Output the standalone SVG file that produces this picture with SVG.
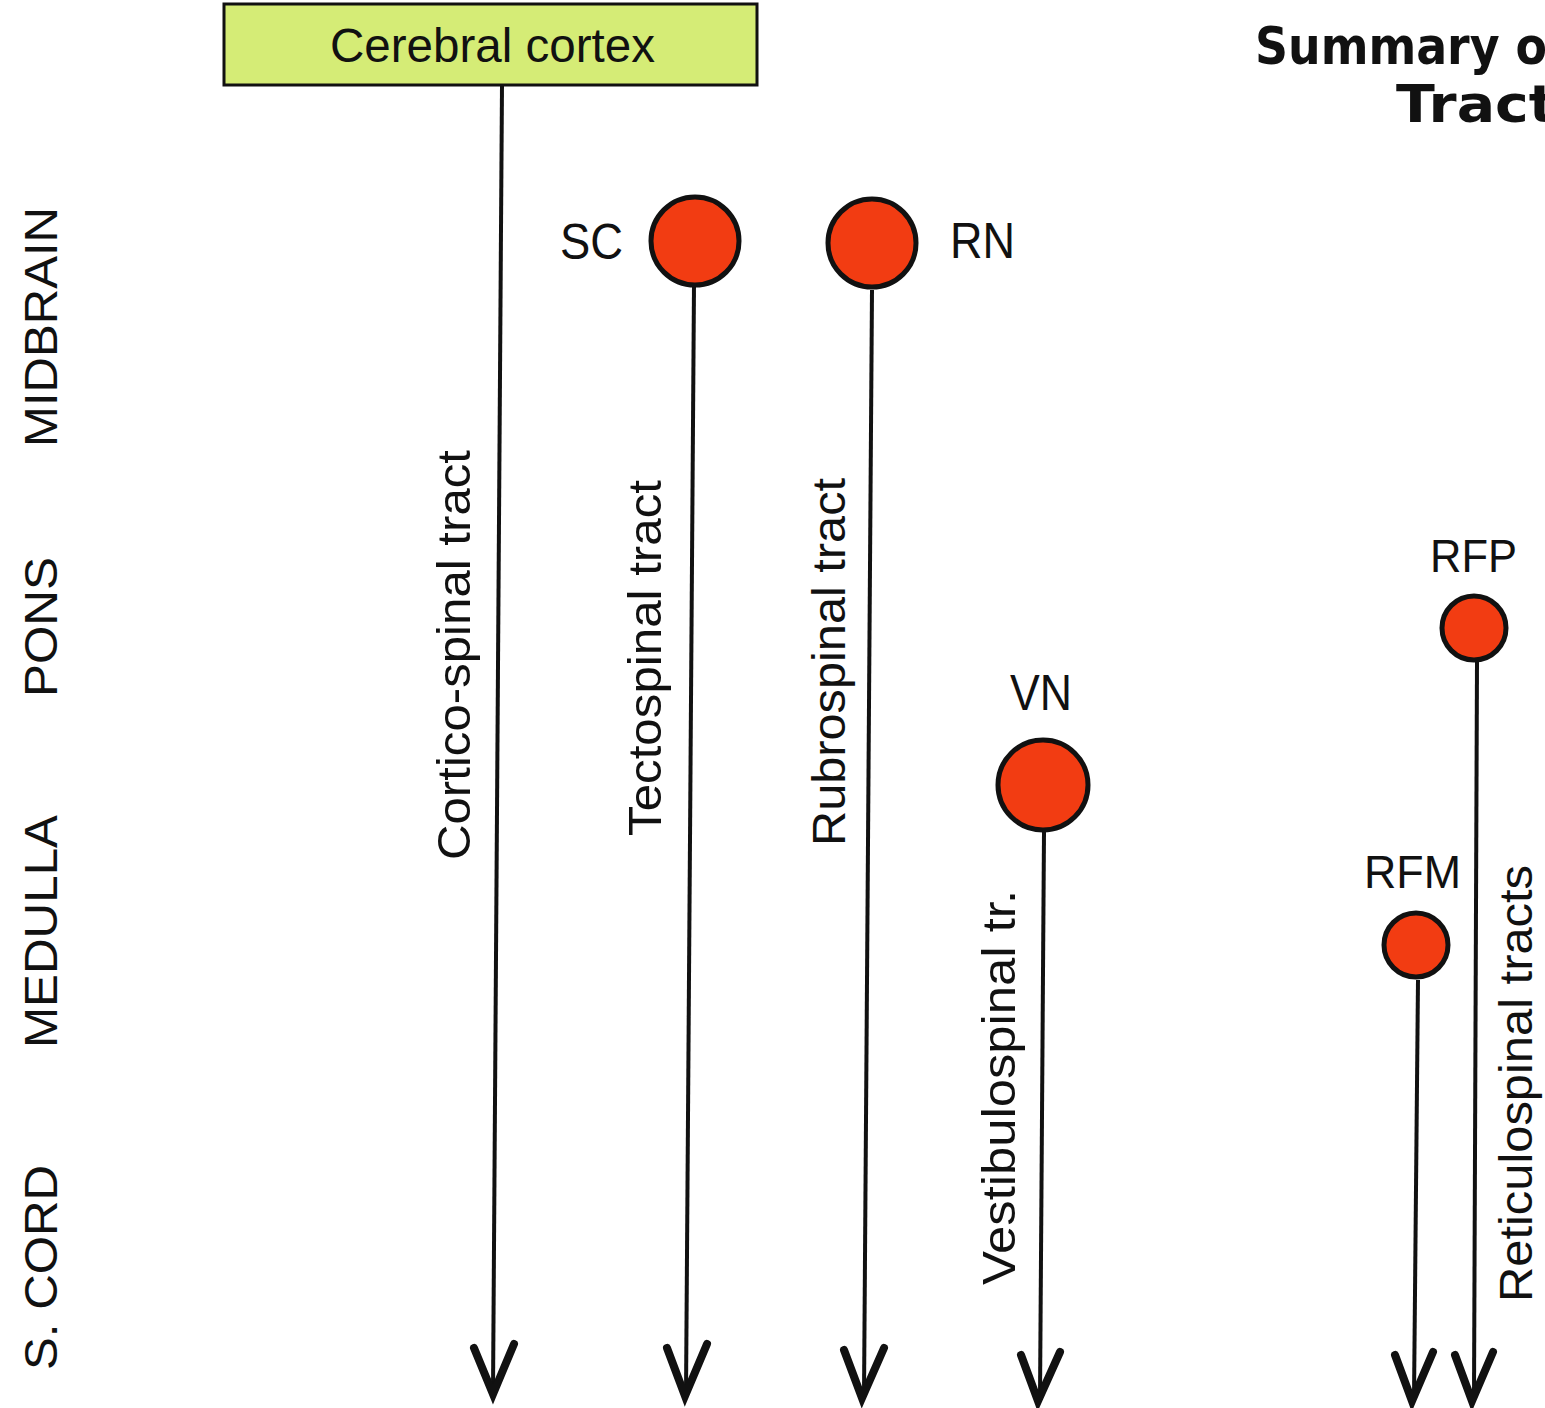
<svg xmlns="http://www.w3.org/2000/svg" width="1545" height="1408" viewBox="0 0 1545 1408">
<style>
.lbl{font-family:"Liberation Sans",Arial,sans-serif;fill:#111}
.nuc{fill:#f23c12;stroke:#111;stroke-width:5}
.tract{stroke:#111;stroke-width:4;fill:none}
.head{stroke:#111;stroke-width:8;fill:none;stroke-linecap:round;stroke-linejoin:miter}
.title{font-family:"Comic Sans MS","DejaVu Sans",sans-serif;font-weight:bold;fill:#111}
</style>
<rect x="0" y="0" width="1545" height="1408" fill="#ffffff"/>
<g id="title">
<text class="title" x="1255" y="64" font-size="52" textLength="312" lengthAdjust="spacingAndGlyphs">Summary of</text>
<text class="title" x="1396" y="122" font-size="52" textLength="160" lengthAdjust="spacingAndGlyphs">Tract</text>
</g>
<g id="levels">
<text class="lbl" font-size="46" transform="translate(57,447) rotate(-90)" textLength="240" lengthAdjust="spacingAndGlyphs">MIDBRAIN</text>
<text class="lbl" font-size="46" transform="translate(57,697) rotate(-90)" textLength="140" lengthAdjust="spacingAndGlyphs">PONS</text>
<text class="lbl" font-size="46" transform="translate(57,1048) rotate(-90)" textLength="233" lengthAdjust="spacingAndGlyphs">MEDULLA</text>
<text class="lbl" font-size="46" transform="translate(57,1370) rotate(-90)" textLength="205" lengthAdjust="spacingAndGlyphs">S. CORD</text>
</g>
<g id="cortex">
<rect x="224" y="4" width="533" height="81" fill="#d5ec76" stroke="#111" stroke-width="3"/>
<text class="lbl" x="330" y="62" font-size="48" textLength="325" lengthAdjust="spacingAndGlyphs">Cerebral cortex</text>
</g>
<g id="connectors">
<path class="tract" d="M502 85 L493 1392"/>
<path class="head" d="M474 1348 L493 1394 L514 1344"/>
<path class="tract" d="M694 285 L686 1394"/>
<path class="head" d="M667 1348 L685 1396 L707 1344"/>
<path class="tract" d="M872 290 L864 1396"/>
<path class="head" d="M844 1350 L862 1398 L884 1348"/>
<path class="tract" d="M1044 832 L1040 1398"/>
<path class="head" d="M1021 1355 L1038 1401 L1060 1352"/>
<path class="tract" d="M1418 980 L1414 1398"/>
<path class="head" d="M1395 1355 L1412 1401 L1433 1352"/>
<path class="tract" d="M1477 662 L1474 1398"/>
<path class="head" d="M1455 1355 L1472 1401 L1493 1352"/>
</g>
<g id="corticospinal-label">
<text class="lbl" font-size="47" transform="translate(470,860) rotate(-90)" textLength="410" lengthAdjust="spacingAndGlyphs">Cortico-spinal tract</text>
</g>
<g id="SC">
<circle class="nuc" cx="695" cy="241" r="44"/>
<text class="lbl" x="560" y="259" font-size="50" textLength="63" lengthAdjust="spacingAndGlyphs">SC</text>
<text class="lbl" font-size="47" transform="translate(661,836) rotate(-90)" textLength="356" lengthAdjust="spacingAndGlyphs">Tectospinal tract</text>
</g>
<g id="RN">
<circle class="nuc" cx="872" cy="243" r="44"/>
<text class="lbl" x="950" y="258" font-size="50" textLength="65" lengthAdjust="spacingAndGlyphs">RN</text>
<text class="lbl" font-size="47" transform="translate(845,846) rotate(-90)" textLength="368" lengthAdjust="spacingAndGlyphs">Rubrospinal tract</text>
</g>
<g id="VN">
<circle class="nuc" cx="1043" cy="785" r="45"/>
<text class="lbl" x="1010" y="710" font-size="50" textLength="62" lengthAdjust="spacingAndGlyphs">VN</text>
<text class="lbl" font-size="47" transform="translate(1015,1285) rotate(-90)" textLength="395" lengthAdjust="spacingAndGlyphs">Vestibulospinal tr.</text>
</g>
<g id="RFP">
<circle class="nuc" cx="1474" cy="628" r="32"/>
<text class="lbl" x="1430" y="572" font-size="46" textLength="87" lengthAdjust="spacingAndGlyphs">RFP</text>
</g>
<g id="RFM">
<circle class="nuc" cx="1416" cy="945" r="32"/>
<text class="lbl" x="1364" y="888" font-size="46" textLength="97" lengthAdjust="spacingAndGlyphs">RFM</text>
</g>
<g id="reticulospinal-label">
<text class="lbl" font-size="47" transform="translate(1532,1302) rotate(-90)" textLength="437" lengthAdjust="spacingAndGlyphs">Reticulospinal tracts</text>
</g>
</svg>
